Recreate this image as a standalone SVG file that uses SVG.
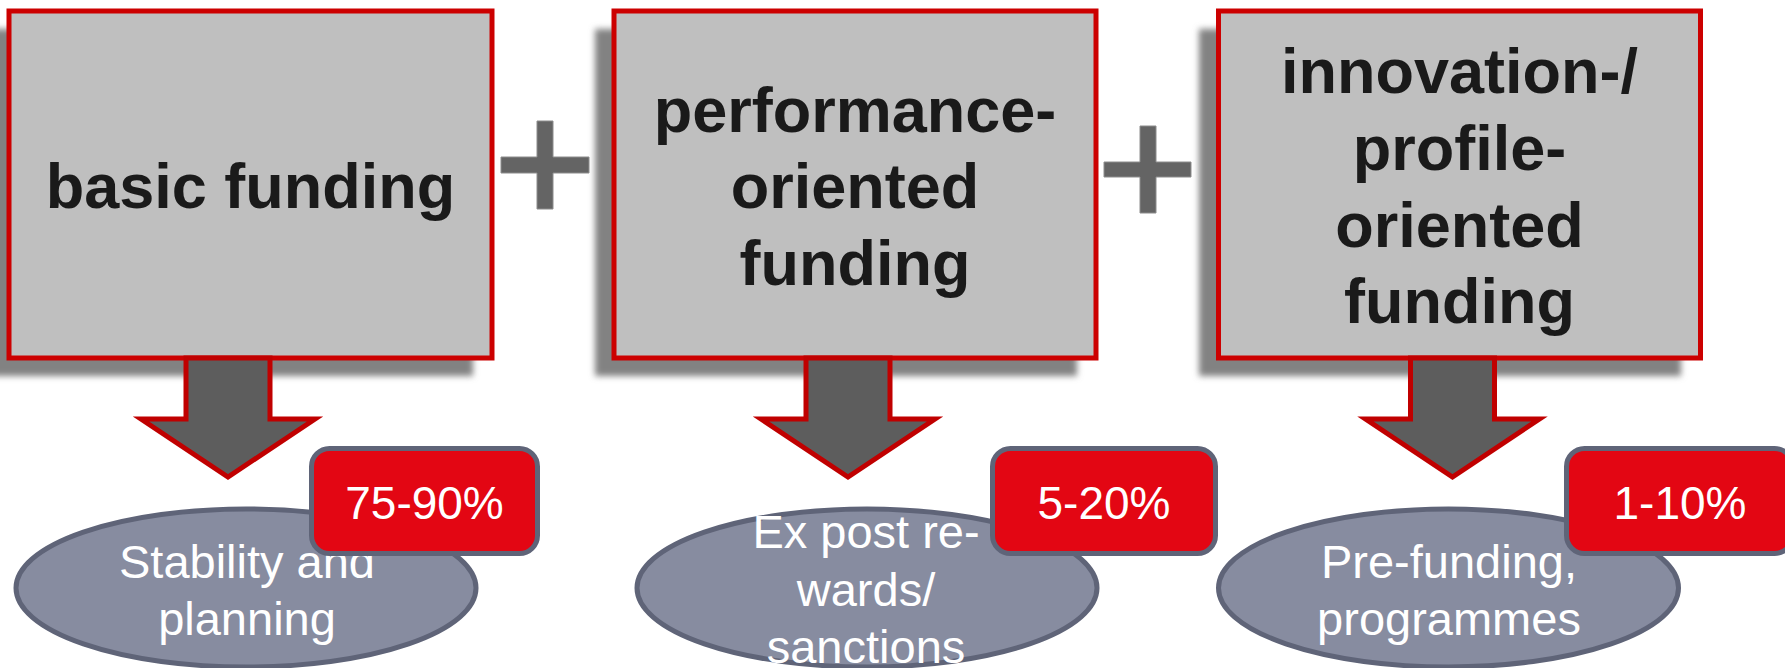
<svg xmlns="http://www.w3.org/2000/svg" width="1785" height="668" viewBox="0 0 1785 668">
<defs>
<filter id="blur" x="-10%" y="-10%" width="120%" height="120%"><feGaussianBlur stdDeviation="3"/></filter>
<style>
.shadow{fill:#828282;filter:url(#blur)}
.box{fill:#BFBFBF;stroke:#CC0000;stroke-width:5}
.btxt{font-family:"Liberation Sans",Arial,sans-serif;font-weight:bold;font-size:63px;fill:#1A1A1A;text-anchor:middle}
.arrow{fill:#5D5D5D;stroke:#C00000;stroke-width:5;stroke-linejoin:miter}
.ell{fill:#878CA0;stroke:#5F6478;stroke-width:5}
.etxt{font-family:"Liberation Sans",Arial,sans-serif;font-size:47px;fill:#FFFFFF;text-anchor:middle}
.badge{fill:#E30613;stroke:#5F6478;stroke-width:5}
.ptxt{font-family:"Liberation Sans",Arial,sans-serif;font-size:46px;fill:#FFFFFF;text-anchor:middle}
.plus{fill:#646464;stroke:#8C8C8C;stroke-width:1}
</style>
</defs>
<rect width="1785" height="668" fill="#FFFFFF"/>
<g id="box-basic">
<rect class="shadow" x="-10" y="29" width="483" height="347"/>
<rect class="box" x="9" y="11" width="483" height="347"/>
<text class="btxt" x="250.5" y="208">basic funding</text>
</g>
<g id="box-performance">
<rect class="shadow" x="595" y="29" width="482" height="347"/>
<rect class="box" x="614" y="11" width="482" height="347"/>
<text class="btxt" x="855" y="132">performance-</text>
<text class="btxt" x="855" y="208">oriented</text>
<text class="btxt" x="855" y="285">funding</text>
</g>
<g id="box-innovation">
<rect class="shadow" x="1199" y="29" width="482" height="347"/>
<rect class="box" x="1218.5" y="11" width="482" height="347"/>
<text class="btxt" x="1459.5" y="93">innovation-/</text>
<text class="btxt" x="1459.5" y="170">profile-</text>
<text class="btxt" x="1459.5" y="247">oriented</text>
<text class="btxt" x="1459.5" y="323">funding</text>
</g>
<g id="plus-signs">
<polygon class="plus" points="537,121 553,121 553,157 589,157 589,173 553,173 553,209 537,209 537,173 501,173 501,157 537,157"/>
<polygon class="plus" points="1140,126 1156,126 1156,162 1191,162 1191,177 1156,177 1156,213 1140,213 1140,177 1104,177 1104,162 1140,162"/>
</g>
<g id="connectors">
<polygon class="arrow" points="186,358 270,358 270,419 315,419 228,477 141,419 186,419"/>
<polygon class="arrow" points="806,358 890,358 890,419 935,419 848,477 761,419 806,419"/>
<polygon class="arrow" points="1410.5,358 1494.5,358 1494.5,419 1539.5,419 1452.5,477 1365.5,419 1410.5,419"/>
</g>
<g id="ellipse-stability">
<ellipse class="ell" cx="246" cy="588" rx="230" ry="79"/>
<text class="etxt" x="247" y="578">Stability and</text>
<text class="etxt" x="247" y="635">planning</text>
</g>
<g id="ellipse-expost">
<ellipse class="ell" cx="867" cy="588" rx="230" ry="79"/>
<text class="etxt" x="866" y="548">Ex post re-</text>
<text class="etxt" x="866" y="606">wards/</text>
<text class="etxt" x="866" y="663">sanctions</text>
</g>
<g id="ellipse-prefunding">
<ellipse class="ell" cx="1448.5" cy="588" rx="230" ry="79"/>
<text class="etxt" x="1449" y="578">Pre-funding,</text>
<text class="etxt" x="1449" y="635">programmes</text>
</g>
<g id="badge-1">
<rect class="badge" x="311.5" y="448.5" width="226" height="105" rx="18"/>
<text class="ptxt" x="424.5" y="519">75-90%</text>
</g>
<g id="badge-2">
<rect class="badge" x="992.5" y="448.5" width="223" height="105" rx="18"/>
<text class="ptxt" x="1104" y="519">5-20%</text>
</g>
<g id="badge-3">
<rect class="badge" x="1566.5" y="448.5" width="226" height="105" rx="18"/>
<text class="ptxt" x="1680" y="519">1-10%</text>
</g>
</svg>
